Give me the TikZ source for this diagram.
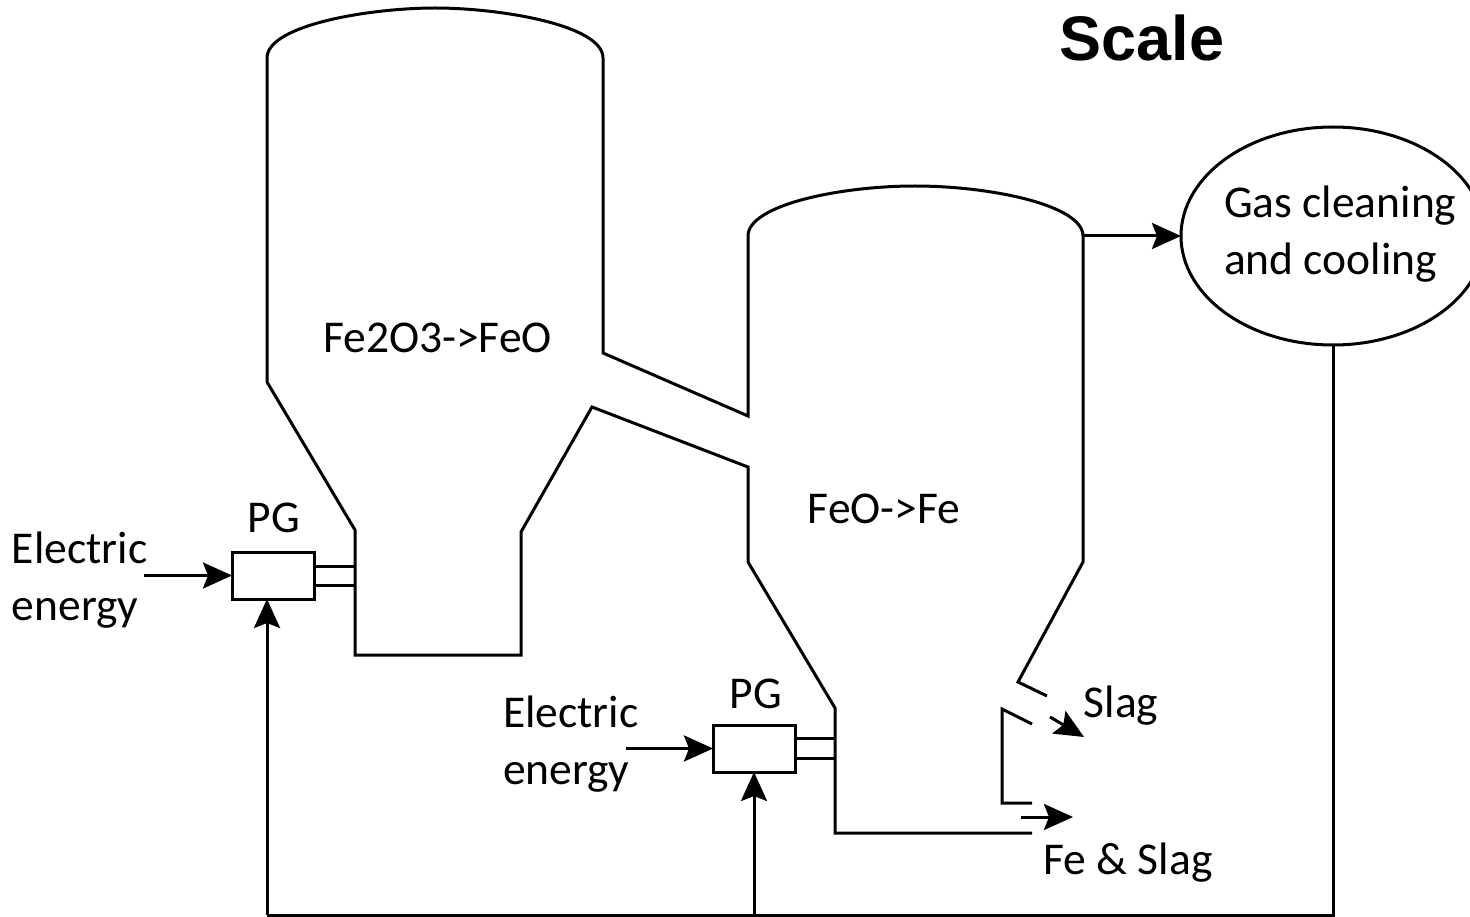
\documentclass[tikz,border=0pt]{standalone}
\usepackage{fontspec}
\setmainfont{Carlito}
\newfontfamily\headfont{Liberation Sans}
\usetikzlibrary{arrows.meta,shapes.geometric}
\begin{document}
\begin{tikzpicture}[x=1pt, y=-1pt, line width=3pt, >={Stealth[length=29pt,width=26pt,inset=5pt]},
	every node/.style={inner sep=0pt, outer sep=0pt, font=\fontsize{45.5}{57}\selectfont},
	pgbox/.style={draw, rectangle, minimum width=82pt, minimum height=47pt},
	label/.style={align=left},
	furnace/.style={line join=miter}]

	\useasboundingbox (0,0) rectangle (1470,917);

	\draw [furnace] (267,58) .. controls (267,25) and (370,8) .. (435,8) .. controls (500,8) and (603,25) .. (603,58)
		-- (603,353) -- (748,416) -- (748,236) .. controls (748,205) and (840,186) .. (915,186) .. controls (990,186) and (1083,205) .. (1083,236)
		-- (1083,562) -- (1018,682) -- (1047,696);
	\draw [furnace] (267,58) -- (267,382) -- (355,530) -- (355,655) -- (521,655) -- (521,532) -- (592,407) -- (748,467) -- (748,562) -- (835,708) -- (835,833) -- (1032,833);
	\draw [furnace] (1032,724) -- (1002,709) -- (1002,803) -- (1032,803);

	\node [pgbox] (PGA) at (273,575.5) {};
	\node [pgbox] (PGB) at (754,748.5) {};
	\node [draw, ellipse, minimum width=304pt, minimum height=218pt] (GC) at (1333,236) {};

	\node [label] (TA) at (437.5,338) {Fe2O3->FeO};
	\node [label] (TB) at (884,509) {FeO->Fe};
	\node [label] (LA) at (274,518) {PG};
	\node [label] (LB) at (756,694) {PG};
	\node [label, anchor=north west] (EA) at (12,532) {Electric\\energy};
	\node [label, anchor=north west] (EB) at (503,696) {Electric\\energy};
	\node [label, anchor=west] (GT) at (1224,234) {Gas cleaning\\and cooling};
	\node [label] (SL) at (1121,706) {Slag};
	\node [label] (FS) at (1128,863) {Fe \& Slag};
	\node [font=\headfont\bfseries\fontsize{63}{70}\selectfont] (SC) at (1142,38) {Scale};

	\coordinate (OA) at (1083,236);
	\coordinate (IA) at (144,575.5);
	\coordinate (IB) at (626,748.5);
	\coordinate (BA) at (267,915);
	\coordinate (BB) at (754,915);
	\coordinate (BC) at (1333,915);
	\coordinate (SA) at (1050,717);
	\coordinate (SB) at (1084,737);
	\coordinate (FA) at (1021,817);
	\coordinate (FB) at (1073,817);

	\draw [->] (OA) -- (GC.west);
	\draw [->] (IA) -- (PGA.west);
	\draw [->] (IB) -- (PGB.west);
	\draw (GC.south) -- (BC) -- (BA);
	\draw [->] (BA) -- (BA |- PGA.south);
	\draw [->] (BB) -- (PGB.south);
	\draw [->] (SA) -- (SB);
	\draw [->] (FA) -- (FB);

	\draw (PGA.east |- 0,566) -- (355,566);
	\draw (PGA.east |- 0,585) -- (355,585);
	\draw (PGB.east |- 0,738) -- (835,738);
	\draw (PGB.east |- 0,758) -- (835,758);

\end{tikzpicture}
\end{document}
